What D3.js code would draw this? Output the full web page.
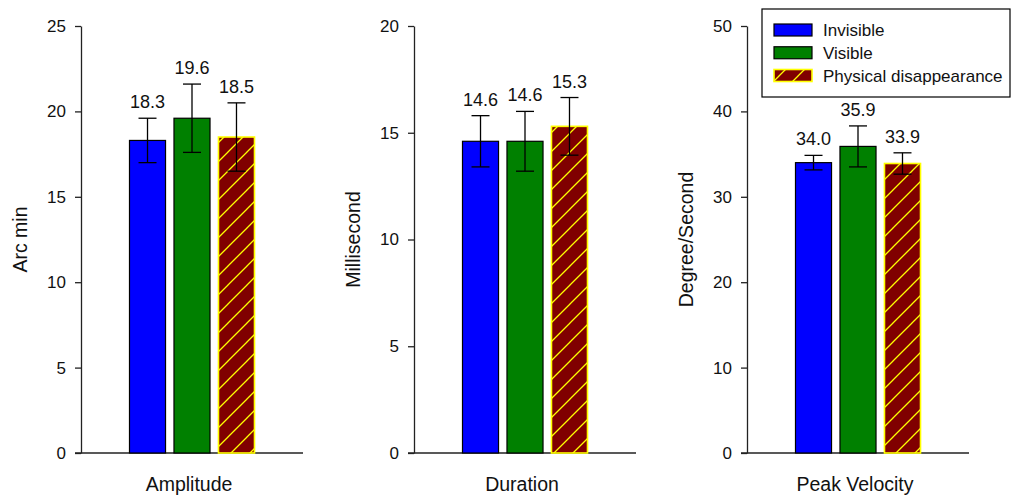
<!DOCTYPE html>
<html>
<head>
<meta charset="utf-8">
<script src="https://cdn.jsdelivr.net/npm/d3@7"></script>
<style>
  body { margin: 0; background: #fff; }
  svg { font-family: "Liberation Sans", Arial, sans-serif; }
  .tick text { font-size: 17px; fill: #111; }
  .tick line, .domain { stroke: #222; stroke-width: 1.3; }
</style>
</head>
<body>
<div id="chart"></div>
<script>
const conditions = ["Invisible", "Visible", "Physical disappearance"];
const measures = ["Amplitude", "Duration", "Peak Velocity"];
const yLabels = ["Arc min", "Millisecond", "Degree/Second"];
const yMax = [25, 20, 50];
const tickStep = [5, 5, 10];

const amplitudeMean = [18.3, 19.6, 18.5];
const amplitudeErr = [1.3, 2.0, 2.0];
const durationMean = [14.6, 14.6, 15.3];
const durationErr = [1.2, 1.4, 1.35];
const velocityMean = [34.0, 35.9, 33.9];
const velocityErr = [0.85, 2.4, 1.25];

const means = [amplitudeMean, durationMean, velocityMean];
const errs = [amplitudeErr, durationErr, velocityErr];

const fills = ["#0000ff", "#008000", "url(#hatch)"];
const strokes = ["#000", "#000", "#ffff00"];

const width = 1016, height = 497;
const panelLeft = [81, 414, 747];
const panelWidth = 222;
const plotTop = 26, plotBottom = 453;

const svg = d3.select("#chart").append("svg")
  .attr("width", width)
  .attr("height", height);

const pattern = svg.append("defs").append("pattern")
  .attr("id", "hatch")
  .attr("patternUnits", "userSpaceOnUse")
  .attr("width", 19)
  .attr("height", 19);
pattern.append("rect").attr("width", 19).attr("height", 19).attr("fill", "#800000");
pattern.append("path")
  .attr("d", "M-2,21 L21,-2 M-2,2 L2,-2 M17,21 L21,17")
  .attr("stroke", "#ffff00")
  .attr("stroke-width", 1.3);

measures.forEach((measure, i) => {
  const x0 = panelLeft[i];
  const g = svg.append("g");

  const x = d3.scaleBand()
    .domain(conditions)
    .range([x0, x0 + panelWidth])
    .paddingInner(0.19)
    .paddingOuter(1.09);

  const y = d3.scaleLinear()
    .domain([0, yMax[i]])
    .range([plotBottom, plotTop]);

  g.append("g")
    .attr("transform", `translate(${x0},0)`)
    .call(d3.axisLeft(y).tickValues(d3.range(0, yMax[i] + 0.1, tickStep[i])).tickSize(6).tickSizeOuter(0).tickPadding(9));

  g.append("line")
    .attr("x1", x0 - 6)
    .attr("x2", x0 + panelWidth)
    .attr("y1", y(0))
    .attr("y2", y(0))
    .attr("stroke", "#222")
    .attr("stroke-width", 1.3);

  const data = conditions.map((c, j) => ({ c, j, v: means[i][j], e: errs[i][j] }));

  g.selectAll(".bar")
    .data(data)
    .enter()
    .append("rect")
    .attr("x", d => x(d.c))
    .attr("y", d => y(d.v))
    .attr("width", x.bandwidth())
    .attr("height", d => y(0) - y(d.v))
    .attr("fill", d => fills[d.j])
    .attr("stroke", d => strokes[d.j])
    .attr("stroke-width", d => d.j === 2 ? 1.6 : 1.2);

  const cap = 9;
  data.forEach(d => {
    const cx = x(d.c) + x.bandwidth() / 2;
    const eb = g.append("g").attr("stroke", "#000").attr("stroke-width", 1.3);
    eb.append("line").attr("x1", cx).attr("x2", cx).attr("y1", y(d.v + d.e)).attr("y2", y(d.v - d.e));
    eb.append("line").attr("x1", cx - cap).attr("x2", cx + cap).attr("y1", y(d.v + d.e)).attr("y2", y(d.v + d.e));
    eb.append("line").attr("x1", cx - cap).attr("x2", cx + cap).attr("y1", y(d.v - d.e)).attr("y2", y(d.v - d.e));

    g.append("text")
      .attr("x", cx)
      .attr("y", y(d.v + d.e) - 10)
      .attr("text-anchor", "middle")
      .style("font-size", "18px")
      .attr("fill", "#111")
      .text(d.v.toFixed(1));
  });

  g.append("text")
    .attr("x", x0 + panelWidth / 2 - 3)
    .attr("y", 491)
    .attr("text-anchor", "middle")
    .style("font-size", "19.5px")
    .attr("fill", "#111")
    .text(measure);

  g.append("text")
    .attr("transform", `translate(${x0 - 54},${(plotTop + plotBottom) / 2}) rotate(-90)`)
    .attr("text-anchor", "middle")
    .style("font-size", "19.5px")
    .attr("fill", "#111")
    .text(yLabels[i]);
});

// legend
const legend = svg.append("g");
legend.append("rect")
  .attr("x", 762)
  .attr("y", 9)
  .attr("width", 248)
  .attr("height", 88)
  .attr("fill", "#fff")
  .attr("stroke", "#000")
  .attr("stroke-width", 1.2);

const legendY = d3.scalePoint().domain(conditions).range([30, 75.5]);

conditions.forEach((c, j) => {
  legend.append("rect")
    .attr("x", 774)
    .attr("y", legendY(c) - 6)
    .attr("width", 38)
    .attr("height", 12)
    .attr("fill", fills[j])
    .attr("stroke", strokes[j])
    .attr("stroke-width", j === 2 ? 1.6 : 1.2);
  legend.append("text")
    .attr("x", 823)
    .attr("y", legendY(c) + 6)
    .style("font-size", "17px")
    .attr("fill", "#111")
    .text(c);
});
</script>
</body>
</html>
